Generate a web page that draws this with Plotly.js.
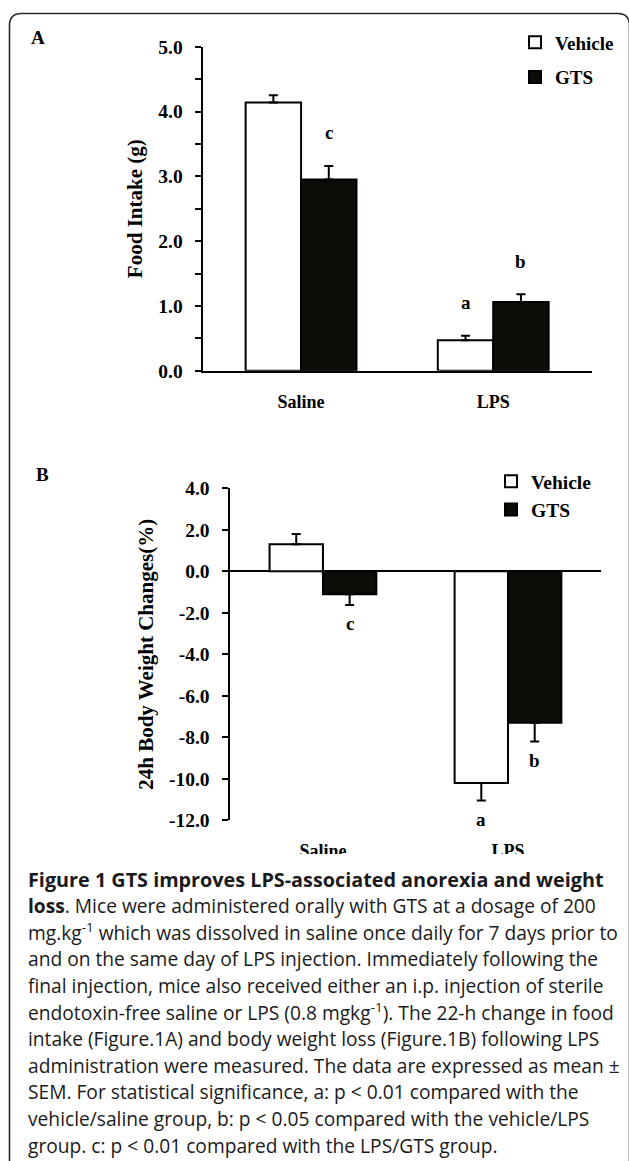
<!DOCTYPE html>
<html><head><meta charset="utf-8">
<script src="https://cdn.plot.ly/plotly-3.0.1.min.js"></script>
<style>html,body{margin:0;padding:0;background:#fff}#chart{width:629px;height:1161px}</style>
</head><body><div id="chart"></div>
<script>
// ---------- data ----------
const categories = ['Saline', 'LPS'];
const seriesNames = ['Vehicle', 'GTS'];

// Panel A: food intake (g)
const foodVehicle = [4.14, 0.47];
const foodVehicleSEM = [0.11, 0.07];
const foodGTS = [2.95, 1.06];
const foodGTSSEM = [0.21, 0.12];
const foodVehicleSig = ['', 'a'];
const foodGTSSig = ['c', 'b'];
const foodTicks = [0, 1, 2, 3, 4, 5];
const foodTickText = ['0.0', '1.0', '2.0', '3.0', '4.0', '5.0'];

// Panel B: 24h body weight changes (%)
const weightVehicle = [1.3, -10.2];
const weightVehicleSEM = [0.5, 0.85];
const weightGTS = [-1.1, -7.3];
const weightGTSSEM = [0.52, 0.9];
const weightVehicleSig = ['', 'a'];
const weightGTSSig = ['c', 'b'];
const weightTicks = [4, 2, 0, -2, -4, -6, -8, -10, -12];
const weightTickText = ['4.0', '2.0', '0.0', '-2.0', '-4.0', '-6.0', '-8.0', '-10.0', '-12.0'];

const captionLines = [
  '<b>Figure 1 GTS improves LPS-associated anorexia and weight</b>',
  '<b>loss</b>. Mice were administered orally with GTS at a dosage of 200',
  'mg.kg<sup>-1</sup> which was dissolved in saline once daily for 7 days prior to',
  'and on the same day of LPS injection. Immediately following the',
  'final injection, mice also received either an i.p. injection of sterile',
  'endotoxin-free saline or LPS (0.8 mgkg<sup>-1</sup>). The 22-h change in food',
  'intake (Figure.1A) and body weight loss (Figure.1B) following LPS',
  'administration were measured. The data are expressed as mean ±',
  'SEM. For statistical significance, a: p &lt; 0.01 compared with the',
  'vehicle/saline group, b: p &lt; 0.05 compared with the vehicle/LPS',
  'group. c: p &lt; 0.01 compared with the LPS/GTS group.'
];

// ---------- layout helpers ----------
const W = 629, H = 1161;
const fx = p => p / W;
const fy = p => 1 - p / H;
const BARGAP = 0.423;
const serif = 'Liberation Serif, Times New Roman, serif';
const bold = (size) => ({family: serif, size: size, color: '#000', weight: 700});
const VEH_COLOR = '#ffffff', GTS_COLOR = '#0e0c09';

function upOnly(vals, sem) { return vals.map((v, i) => v >= 0 ? sem[i] : 0); }
function downOnly(vals, sem) { return vals.map((v, i) => v < 0 ? sem[i] : 0); }

function barTrace(vals, sem, name, color, xa, ya, legend, group) {
  return {
    type: 'bar', x: categories, y: vals, name: name,
    xaxis: xa, yaxis: ya, legend: legend, legendgroup: group,
    marker: {color: color, line: {color: '#000', width: 2}},
    error_y: {type: 'data', symmetric: false, array: upOnly(vals, sem), arrayminus: downOnly(vals, sem),
              color: '#000', thickness: 2, width: 4.5},
    hoverinfo: 'skip'
  };
}

const data = [
  barTrace(foodVehicle, foodVehicleSEM, seriesNames[0], VEH_COLOR, 'x', 'y', 'legend', 'v'),
  barTrace(foodGTS, foodGTSSEM, seriesNames[1], GTS_COLOR, 'x', 'y', 'legend', 'g'),
  barTrace(weightVehicle, weightVehicleSEM, seriesNames[0], VEH_COLOR, 'x2', 'y2', 'legend2', 'v2'),
  barTrace(weightGTS, weightGTSSEM, seriesNames[1], GTS_COLOR, 'x2', 'y2', 'legend2', 'g2')
];

// significance letters
const annotations = [];
const half = (1 - BARGAP) / 4;
function sigLetters(vals, sem, letters, side, xref, yref) {
  letters.forEach((t, i) => {
    if (!t) return;
    const up = vals[i] >= 0;
    annotations.push({
      xref: xref, yref: yref, x: i + side * half, y: up ? vals[i] + sem[i] : vals[i] - sem[i],
      yshift: up ? 33 : -19, text: t, showarrow: false, font: bold(19),
      xanchor: 'center', yanchor: 'middle'
    });
  });
}
sigLetters(foodVehicle, foodVehicleSEM, foodVehicleSig, -1, 'x', 'y');
sigLetters(foodGTS, foodGTSSEM, foodGTSSig, 1, 'x', 'y');
sigLetters(weightVehicle, weightVehicleSEM, weightVehicleSig, -1, 'x2', 'y2');
sigLetters(weightGTS, weightGTSSEM, weightGTSSig, 1, 'x2', 'y2');

// panel letters
annotations.push({xref: 'paper', yref: 'paper', x: fx(38), y: fy(38), text: 'A', showarrow: false,
  font: bold(19), xanchor: 'center', yanchor: 'middle'});
annotations.push({xref: 'paper', yref: 'paper', x: fx(42), y: fy(474), text: 'B', showarrow: false,
  font: bold(19), xanchor: 'center', yanchor: 'middle'});

// caption
const capY0 = 879, capStep = 26.6;
captionLines.forEach((t, i) => {
  annotations.push({xref: 'paper', yref: 'paper', x: fx(26), y: fy(capY0 + i * capStep), text: t,
    showarrow: false, xanchor: 'left', yanchor: 'middle', align: 'left',
    font: {family: 'Open Sans, Noto Sans, sans-serif', size: i === 0 ? 19.8 : 19.2, color: '#1a1a1a'}});
});

// frame path (rounded top corners)
const r = 12, L = 9.5, T = 13.5, R = 629.5;
const framePath = `M ${fx(L)},${fy(H + 2)} L ${fx(L)},${fy(T + r)} Q ${fx(L)},${fy(T)} ${fx(L + r)},${fy(T)} ` +
  `L ${fx(R - r)},${fy(T)} Q ${fx(R)},${fy(T)} ${fx(R)},${fy(T + r)} L ${fx(R)},${fy(H + 2)}`;

const yAxisCommon = {
  ticks: 'outside', ticklen: 6, tickwidth: 2, tickcolor: '#000', ticklabelstandoff: 8,
  showline: true, linewidth: 2, linecolor: '#000', showgrid: false,
  tickmode: 'array', tickfont: bold(19.5), fixedrange: true
};
const xAxisCommon = {
  type: 'category', showgrid: false, zeroline: false,
  ticks: 'outside', ticklen: 14, tickcolor: 'rgba(0,0,0,0)', tickfont: bold(18), fixedrange: true
};

const layout = {
  width: W, height: H,
  margin: {l: 0, r: 0, t: 0, b: 0},
  paper_bgcolor: '#fff', plot_bgcolor: 'rgba(0,0,0,0)',
  barmode: 'group', bargap: BARGAP, bargroupgap: 0,
  xaxis: Object.assign({}, xAxisCommon, {domain: [fx(202.6), fx(591.7)], range: [-0.5125, 1.5125],
    anchor: 'y', showline: true, linewidth: 2, linecolor: '#000'}),
  yaxis: Object.assign({}, yAxisCommon, {domain: [fy(370.7), fy(46.7)], range: [0, 5], anchor: 'x',
    tickvals: foodTicks, ticktext: foodTickText, zeroline: false,
    minor: {tickmode: 'linear', tick0: 0, dtick: 0.5, ticks: 'outside', ticklen: 6, tickwidth: 2, tickcolor: '#000', showgrid: false},
    title: {text: 'Food Intake (g)', font: bold(21), standoff: 10}}),
  xaxis2: Object.assign({}, xAxisCommon, {domain: [fx(229.5), fx(600.7)], range: [-0.505, 1.501],
    anchor: 'y2', showline: false}),
  yaxis2: Object.assign({}, yAxisCommon, {domain: [fy(820.3), fy(488.3)], range: [-12, 4], anchor: 'x2',
    tickvals: weightTicks, ticktext: weightTickText,
    zeroline: true, zerolinewidth: 2, zerolinecolor: '#000',
    title: {text: '24h Body Weight Changes(%)', font: bold(21), standoff: 10}}),
  showlegend: true,
  legend: {x: fx(515), y: fy(23.5), xanchor: 'left', yanchor: 'top', bgcolor: 'rgba(0,0,0,0)',
    font: bold(19), traceorder: 'grouped', tracegroupgap: 7, itemclick: false, itemdoubleclick: false},
  legend2: {x: fx(491), y: fy(462), xanchor: 'left', yanchor: 'top', bgcolor: 'rgba(0,0,0,0)',
    font: bold(19.5), traceorder: 'grouped', tracegroupgap: 0, itemclick: false, itemdoubleclick: false},
  annotations: annotations,
  shapes: [
    {type: 'rect', xref: 'paper', yref: 'paper', x0: fx(12), x1: 1, y0: 0, y1: fy(854),
      fillcolor: '#fff', line: {width: 0}, layer: 'above'},
    {type: 'path', xref: 'paper', yref: 'paper', path: framePath, line: {color: '#2b2b2b', width: 1.6}, layer: 'above'}
  ]
};

Plotly.newPlot('chart', data, layout, {staticPlot: true, displayModeBar: false});
</script>
</body></html>
